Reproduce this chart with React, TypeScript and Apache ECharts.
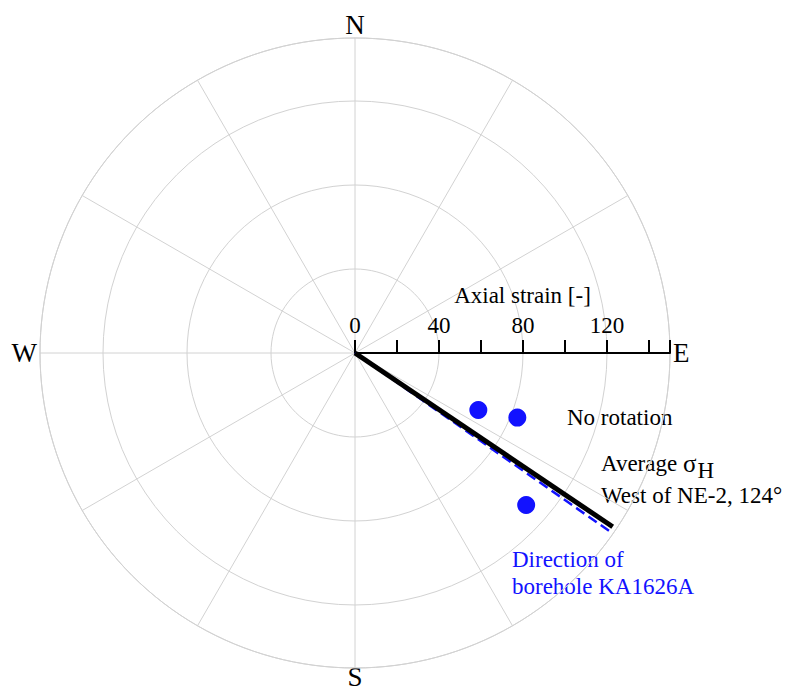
import React, { useEffect, useRef } from "react";
import * as echarts from "echarts";

// Compass bearings (degrees clockwise from north) and axial strain values
const compassTicks: Record<number, string> = { 0: "N", 90: "E", 180: "{s|S}", 270: "W" };
const strainTickLabels = [0, 40, 80, 120];

// Average sigma_H direction west of NE-2
const sigmaBearing = 124;
const sigmaLength = 148;

// Borehole KA1626A direction
const boreholeBearing = 125;
const boreholeLength = 150;

// Measured axial strain vs. bearing, no rotation
const pointStrain = [64.7, 83.2, 109];
const pointBearing = [114.8, 111.7, 131.6];

const SERIF = "Liberation Serif, Times New Roman, serif";
const GRID_GREY = "#d2d2d2";
const BLUE = "#1212ff";

const CX = 355;
const CY = 353;
const R = 315;

export default function App() {
  const ref = useRef<HTMLDivElement>(null);

  useEffect(() => {
    document.body.style.margin = "0";
    if (!ref.current) return;
    const chart = echarts.init(ref.current, null, { renderer: "svg" });

    const text = (t: string, x: number, y: number, color = "#000", rich?: any) => ({
      type: "text",
      x,
      y,
      style: {
        text: t,
        fill: color,
        fontFamily: SERIF,
        fontSize: 23,
        verticalAlign: "middle",
        align: "left",
        rich,
      },
    });

    chart.setOption({
      animation: false,
      backgroundColor: "#fff",
      textStyle: { fontFamily: SERIF },
      polar: { center: [CX, CY], radius: R },
      angleAxis: {
        type: "value",
        min: 0,
        max: 360,
        interval: 30,
        startAngle: 90,
        clockwise: true,
        axisLine: { lineStyle: { color: GRID_GREY, width: 1 } },
        axisTick: { show: false },
        splitLine: { lineStyle: { color: GRID_GREY, width: 1 } },
        axisLabel: {
          margin: 3,
          color: "#000",
          fontFamily: SERIF,
          fontSize: 27,
          lineHeight: 20,
          formatter: (v: number) => compassTicks[v] ?? "",
          rich: {
            s: { fontFamily: SERIF, fontSize: 27, lineHeight: 12, color: "#000" },
          },
        },
      },
      radiusAxis: {
        type: "value",
        min: 0,
        max: 150,
        interval: 40,
        axisLine: { show: false },
        axisTick: { show: false },
        axisLabel: { show: false },
        splitLine: { lineStyle: { color: GRID_GREY, width: 1 } },
      },
      grid: { left: CX, top: CY, width: R, height: 100, show: false },
      xAxis: {
        type: "value",
        position: "top",
        min: 0,
        max: 150,
        interval: 20,
        name: "Axial strain [-]",
        nameLocation: "middle",
        nameGap: 46,
        nameTextStyle: { color: "#000", fontFamily: SERIF, fontSize: 23, padding: [0, 0, 0, 20] },
        axisLine: { onZero: false, lineStyle: { color: "#000", width: 2 } },
        axisTick: { length: 13, lineStyle: { color: "#000", width: 2 } },
        splitLine: { show: false },
        axisLabel: {
          margin: 16,
          color: "#000",
          fontFamily: SERIF,
          fontSize: 23,
          formatter: (v: number) => (strainTickLabels.includes(v) ? String(v) : ""),
        },
      },
      yAxis: { type: "value", show: false, min: 0, max: 1 },
      series: [
        {
          type: "line",
          coordinateSystem: "polar",
          symbol: "none",
          data: [
            [0, boreholeBearing],
            [boreholeLength, boreholeBearing],
          ],
          lineStyle: { color: BLUE, width: 2.5, type: [10, 5] },
          z: 3,
        },
        {
          type: "line",
          coordinateSystem: "polar",
          symbol: "none",
          data: [
            [0, sigmaBearing],
            [sigmaLength, sigmaBearing],
          ],
          lineStyle: { color: "#000", width: 5 },
          z: 4,
        },
        {
          type: "scatter",
          coordinateSystem: "polar",
          symbol: "circle",
          symbolSize: 18,
          itemStyle: { color: BLUE, opacity: 1 },
          data: pointStrain.map((r, i) => [r, pointBearing[i]]),
          z: 5,
        },
      ],
      graphic: [
        text("No rotation", 567, 417),
        text("Average {s|σ}{h|H}", 601, 463, "#000", {
          s: { fontFamily: SERIF, fontSize: 25, fill: "#000" },
          h: { fontFamily: SERIF, fontSize: 23, fill: "#000", padding: [14, 0, 0, 1] },
        }),
        text("West of NE-2, 124°", 601, 495),
        text("Direction of", 512, 559, BLUE),
        text("borehole KA1626A", 512, 586, BLUE),
      ],
    });

    return () => chart.dispose();
  }, []);

  return <div ref={ref} style={{ width: 785, height: 693 }} />;
}
